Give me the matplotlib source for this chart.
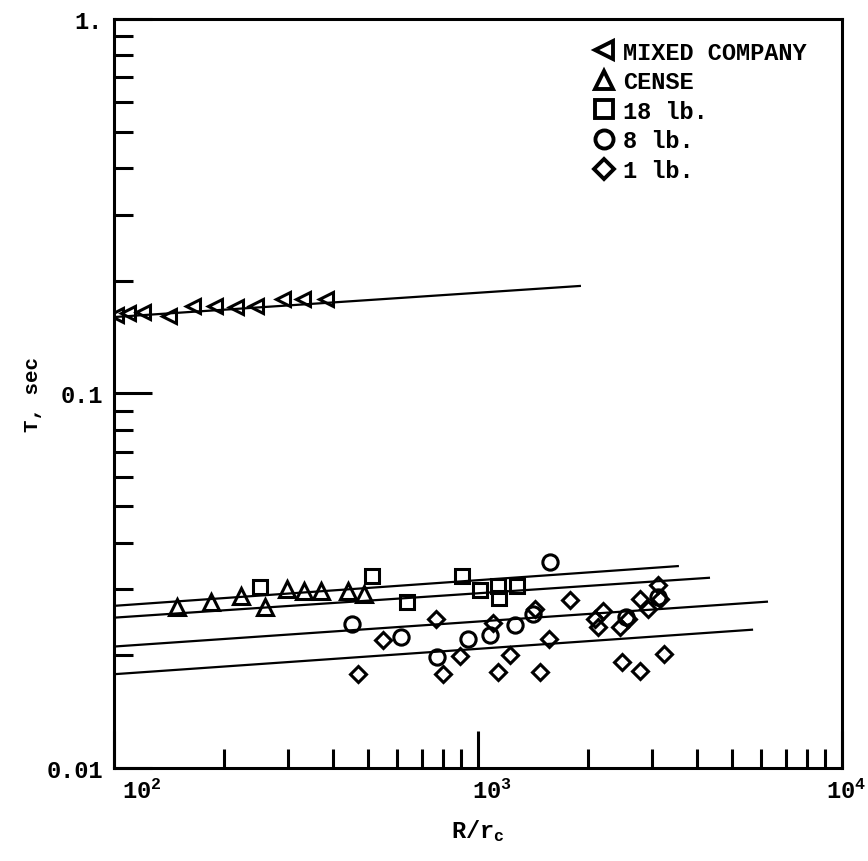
import matplotlib
matplotlib.use("Agg")
import matplotlib.pyplot as plt
import matplotlib.transforms as mtransforms
from matplotlib.lines import Line2D
from matplotlib.ticker import LogLocator, NullFormatter, FixedLocator

plt.rcParams['font.family'] = ['Liberation Mono', 'DejaVu Sans']
plt.rcParams['font.weight'] = 'bold'
plt.rcParams['axes.labelweight'] = 'bold'
plt.rcParams['mathtext.fontset'] = 'custom'
plt.rcParams['mathtext.rm'] = 'Liberation Mono:bold'
plt.rcParams['mathtext.it'] = 'Liberation Mono:bold'
plt.rcParams['mathtext.bf'] = 'Liberation Mono:bold'

# data (R/rc, T in sec)
mc_r = [101, 109, 120, 142, 165, 189, 216, 245, 291, 330, 382]
mc_t = [0.162, 0.164, 0.165, 0.161, 0.171, 0.171, 0.170, 0.171, 0.179, 0.179, 0.179]

cense_r = [149, 185, 223, 260, 299, 333, 371, 440, 486]
cense_t = [0.0269, 0.0278, 0.0288, 0.0269, 0.0301, 0.0297, 0.0297, 0.0297, 0.0292]

lb18_r = [252, 512, 638, 904, 1013, 1135, 1143, 1280]
lb18_t = [0.0304, 0.0326, 0.0278, 0.0326, 0.0299, 0.0306, 0.0285, 0.0306]

lb8_r = [451, 614, 771, 939, 1079, 1264, 1417, 1577, 2550, 3122]
lb8_t = [0.0242, 0.0224, 0.0198, 0.0221, 0.0227, 0.0241, 0.0258, 0.0355, 0.0253, 0.0286]

lb1_r = [468, 548, 766, 801, 892, 1100, 1135, 1224, 1435, 1480, 1567, 1789,
         2096, 2205, 2137, 2455, 2583, 2787, 2931, 3122, 3162, 2486, 2787, 3243]
lb1_t = [0.0178, 0.0220, 0.0250, 0.0178, 0.0199, 0.0244, 0.0180, 0.0200, 0.0266, 0.0180, 0.0221, 0.0281,
         0.0250, 0.0263, 0.0238, 0.0238, 0.0250, 0.0283, 0.0266, 0.0308, 0.0283, 0.0192, 0.0182, 0.0202]

# fitted lines (end points)
fit_r = [[100, 1905], [100, 3540], [100, 4310], [100, 6220], [100, 5660]]
fit_t = [[0.160, 0.1937], [0.0271, 0.0346], [0.0252, 0.0322], [0.0211, 0.0278], [0.0178, 0.0234]]

legend_labels = ['MIXED COMPANY', 'CENSE', '18 lb.', '8 lb.', '1 lb.']
x_ticklabels = ['$10^{\\mathbf{2}}$', '$10^{\\mathbf{3}}$', '$10^{\\mathbf{4}}$']
y_ticklabels = ['0.01', '0.1', '1.']

fig = plt.figure(figsize=(8.68, 8.62), dpi=100)
ax = fig.add_axes([0.1313, 0.1079, 0.8387, 0.8689])
ax.set_xscale('log')
ax.set_yscale('log')
ax.set_xlim(100, 1e4)
ax.set_ylim(0.01, 1)

for r, t in zip(fit_r, fit_t):
    ax.plot(r, t, color='black', lw=1.6)

mk = dict(linestyle='none', color='black', mfc='none', mew=2.2)
ax.plot(mc_r, mc_t, marker='<', ms=10, **mk)
ax.plot(cense_r, cense_t, marker='^', ms=11, **mk)
ax.plot(lb18_r, lb18_t, marker='s', ms=10.5, **mk)
ax.plot(lb8_r, lb8_t, marker='o', ms=11, **mk)
ax.plot(lb1_r, lb1_t, marker='D', ms=8, **mk)

# spines and ticks
for s in ax.spines.values():
    s.set_linewidth(2.2)
ax.xaxis.set_major_locator(FixedLocator([100, 1000, 10000]))
ax.yaxis.set_major_locator(FixedLocator([0.01, 0.1, 1]))
ax.xaxis.set_minor_locator(LogLocator(base=10, subs=range(2, 10)))
ax.yaxis.set_minor_locator(LogLocator(base=10, subs=range(2, 10)))
ax.xaxis.set_minor_formatter(NullFormatter())
ax.yaxis.set_minor_formatter(NullFormatter())
ax.tick_params(which='both', direction='in', top=False, right=False, width=2.2)
ax.tick_params(which='major', length=27)
ax.tick_params(which='minor', length=14)
ax.tick_params(axis='x', which='major', pad=8, labelsize=17)
ax.tick_params(axis='y', which='major', pad=8, labelsize=17)
ax.set_xticklabels(x_ticklabels)
ax.set_yticklabels(y_ticklabels)

# nudge the x labels like the original
x_off = [20, 10, 3]
for lab, dx in zip(ax.get_xticklabels(), x_off):
    lab.set_transform(lab.get_transform() + mtransforms.ScaledTranslation(dx / 72, 0, fig.dpi_scale_trans))

ax.set_xlabel('R/r$_\\mathrm{c}$', fontsize=17, labelpad=10)
ax.set_ylabel('T, sec', fontsize=15, labelpad=3)

lk = dict(mk, mew=2.8)
handles = [
    Line2D([], [], marker='<', ms=13, **lk),
    Line2D([], [], marker='^', ms=13, **lk),
    Line2D([], [], marker='s', ms=13, **lk),
    Line2D([], [], marker='o', ms=13, **lk),
    Line2D([], [], marker='D', ms=10, **lk),
]
ax.legend(handles, legend_labels, loc='upper left', bbox_to_anchor=(0.641, 0.987),
          frameon=False, borderpad=0, handlelength=1.0, handletextpad=0.3,
          labelspacing=0.28, prop={'family': 'Liberation Mono', 'weight': 'bold', 'size': 17})

fig.savefig('out.png', dpi=100)
